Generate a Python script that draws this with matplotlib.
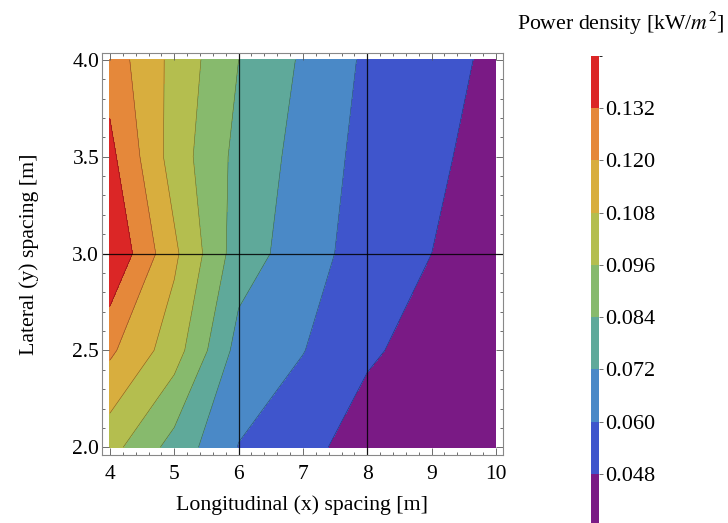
import matplotlib
matplotlib.use('Agg')
import matplotlib.pyplot as plt
import numpy as np
from matplotlib.colors import ListedColormap, BoundaryNorm
from matplotlib.ticker import MultipleLocator

plt.rcParams['font.family'] = 'Liberation Serif'
plt.rcParams['mathtext.fontset'] = 'stix'

x_spacing = [4, 5, 6, 7, 8, 9, 10]
y_spacing = [2.0, 2.5, 3.0, 3.5, 4.0]

# power density [kW/m^2], one row per lateral spacing
p_y20 = [0.1003, 0.0795, 0.0596, 0.0513, 0.0429, 0.0400, 0.0370]
p_y25 = [0.1222, 0.1015, 0.0676, 0.0604, 0.0495, 0.0440, 0.0400]
p_y30 = [0.1437, 0.1104, 0.0777, 0.0661, 0.0537, 0.0480, 0.0430]
p_y35 = [0.1353, 0.1025, 0.0804, 0.0679, 0.0559, 0.0500, 0.0440]
p_y40 = [0.1269, 0.1045, 0.0840, 0.0704, 0.0579, 0.0520, 0.0458]

levels = [0.036, 0.048, 0.060, 0.072, 0.084, 0.096, 0.108, 0.120, 0.132, 0.144]
cbar_ticks = [0.048, 0.060, 0.072, 0.084, 0.096, 0.108, 0.120, 0.132]
band_colors = ['#7a1a85', '#3f55cc', '#4a89c7', '#5fa99a', '#87ba6d',
               '#b4be4f', '#d8ae3e', '#e5883a', '#db2626']

X, Y = np.meshgrid(x_spacing, y_spacing)
Z = np.array([p_y20, p_y25, p_y30, p_y35, p_y40])

cmap = ListedColormap(band_colors)
norm = BoundaryNorm(levels, cmap.N)

fig = plt.figure(figsize=(7.28, 5.23), dpi=100)
ax = fig.add_axes([0.140, 0.130, 0.551, 0.769])

cs = ax.contourf(X, Y, Z, levels=levels, cmap=cmap, norm=norm)
ax.contour(X, Y, Z, levels=cbar_ticks, colors='k', linewidths=0.4, alpha=0.45)

# grid lines
for gx in [6, 8]:
    ax.axvline(gx, color='k', lw=0.9, alpha=0.85)
ax.axhline(3.0, color='k', lw=0.9, alpha=0.85)

ax.set_xlim(3.876, 10.11)
ax.set_ylim(1.96, 4.036)
ax.set_xticks([4, 5, 6, 7, 8, 9, 10])
ax.set_yticks([2.0, 2.5, 3.0, 3.5, 4.0])
ax.set_yticklabels(['2.0', '2.5', '3.0', '3.5', '4.0'])
ax.xaxis.set_minor_locator(MultipleLocator(0.2))
ax.yaxis.set_minor_locator(MultipleLocator(0.1))
ax.tick_params(which='both', direction='in', top=True, right=True, color='#555555', width=0.6)
ax.tick_params(which='major', length=5, labelsize=15.5)
ax.tick_params(which='minor', length=2.5)
ax.tick_params(axis='x', which='major', pad=7)
ax.tick_params(axis='y', which='major', pad=2)
for sp in ax.spines.values():
    sp.set_color('#888888')
    sp.set_linewidth(0.8)

ax.set_xlabel('Longitudinal (x) spacing [m]', fontsize=15.7, labelpad=8)
ax.set_ylabel('Lateral (y) spacing [m]', fontsize=15.7, labelpad=24)

# colorbar
cax = fig.add_axes([0.812, -0.0063, 0.011, 0.8998])
cb = fig.colorbar(cs, cax=cax, ticks=cbar_ticks)
cb.outline.set_visible(False)
cb.ax.set_yticklabels(['%.3f' % t for t in cbar_ticks])
cb.ax.tick_params(labelsize=16, length=3, width=0.6, color='#555555', pad=1)
fig.text(0.852, 0.955, 'Power density [kW/$m^2$]', fontsize=15.7, ha='center', va='center')

fig.savefig('out.png', dpi=100)
